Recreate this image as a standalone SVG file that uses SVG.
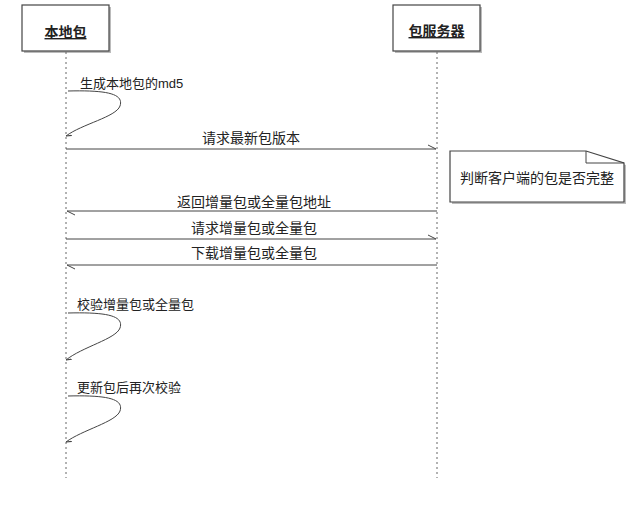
<svg xmlns="http://www.w3.org/2000/svg" width="640" height="515" viewBox="0 0 640 515">
<style>
.t{font-family:"Liberation Sans","Noto Sans CJK SC",sans-serif;font-size:14px;fill:#222}
.s{font-size:13px}
.h{font-weight:bold;text-decoration:underline}
.box{fill:#fff;stroke:#444;stroke-width:1.2}
.sh{fill:#bbb}
.life{stroke:#666;stroke-width:1;stroke-dasharray:2,3;fill:none}
.msg{stroke:#444;stroke-width:1;fill:none}
</style>
<defs>
<marker id="hr" markerWidth="10" markerHeight="8" refX="9" refY="6" orient="auto" markerUnits="userSpaceOnUse">
<path d="M1,2 L9,6" stroke="#444" stroke-width="1" fill="none"/>
</marker>
<marker id="hs" markerWidth="10" markerHeight="10" refX="5" refY="5" orient="auto" markerUnits="userSpaceOnUse">
<path d="M5,5 L0,2" stroke="#444" stroke-width="1.2" fill="none"/>
</marker>
</defs>
<rect width="640" height="515" fill="#fff"/>
<g id="local">
<rect class="sh" x="24" y="7" width="87" height="46"/>
<rect class="box" x="22" y="5" width="87" height="46"/>
<text class="t h" x="65.5" y="37" text-anchor="middle">本地包</text>
</g>
<g id="server">
<rect class="sh" x="395" y="7" width="87" height="46"/>
<rect class="box" x="393" y="5" width="87" height="46"/>
<text class="t h" x="436.5" y="36" text-anchor="middle">包服务器</text>
</g>
<g id="note">
<path d="M452,153 L588,153 L626,165 L626,204 L452,204 Z" fill="#bbb"/>
<path d="M450,151 L586,151 L624,163 L624,202 L450,202 Z" class="box"/>
<path d="M586,151 L586,163 L624,163" class="msg"/>
<text class="t" x="537" y="183" text-anchor="middle">判断客户端的包是否完整</text>
</g>
<g id="connectors">
<line class="life" x1="66" y1="52" x2="66" y2="478"/>
<line class="life" x1="437" y1="52" x2="437" y2="478"/>
<path class="msg" d="M68,91 C108,90 124,94 120,106 C116,117 82,124 66,136" marker-end="url(#hs)"/>
<line class="msg" x1="66" y1="149" x2="436" y2="149" marker-end="url(#hr)"/>
<line class="msg" x1="437" y1="211" x2="67" y2="211" marker-end="url(#hr)"/>
<line class="msg" x1="66" y1="239" x2="436" y2="239" marker-end="url(#hr)"/>
<line class="msg" x1="437" y1="265" x2="67" y2="265" marker-end="url(#hr)"/>
<path class="msg" d="M68,313 C108,312 124,316 120,328 C116,339 82,347 66,360" marker-end="url(#hs)"/>
<path class="msg" d="M68,396 C108,395 124,399 120,411 C116,422 82,430 66,442" marker-end="url(#hs)"/>
</g>
<g id="labels">
<text class="t s" x="80" y="88">生成本地包的md5</text>
<text class="t" x="251" y="143" text-anchor="middle">请求最新包版本</text>
<text class="t" x="254" y="207" text-anchor="middle">返回增量包或全量包地址</text>
<text class="t" x="254" y="233" text-anchor="middle">请求增量包或全量包</text>
<text class="t" x="254" y="258" text-anchor="middle">下载增量包或全量包</text>
<text class="t s" x="77" y="309">校验增量包或全量包</text>
<text class="t s" x="77" y="392">更新包后再次校验</text>
</g>
</svg>
